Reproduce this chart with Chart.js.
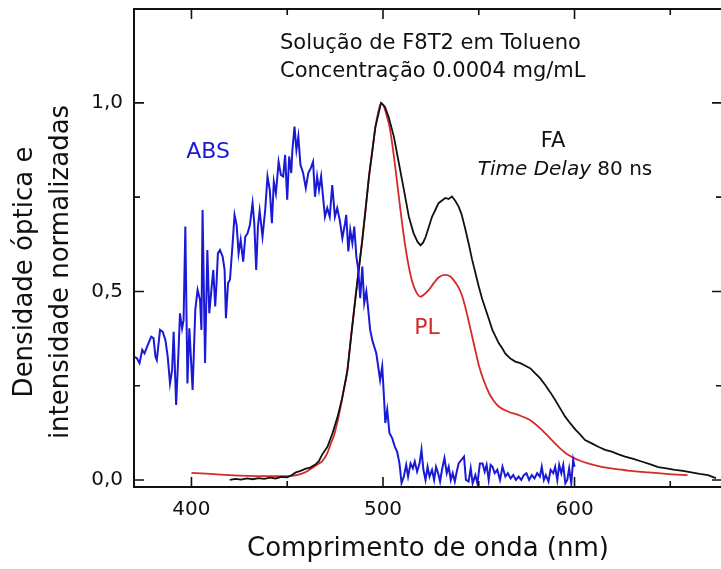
<!DOCTYPE html>
<html>
<head>
<meta charset="utf-8">
<script src="https://cdn.jsdelivr.net/npm/chart.js@4.4.0/dist/chart.umd.min.js"></script>
<style>
  html, body { margin: 0; padding: 0; background: #fff; overflow: hidden; }
  #wrap { width: 730px; height: 569px; }
</style>
</head>
<body>
<div id="wrap"><canvas id="chart" width="730" height="569"></canvas></div>
<script>
// absorção (ABS), azul
const absNm = [370, 371.5, 372.9, 374.3, 375.5, 377.2, 379, 380.2, 381.2, 381.9, 383.6, 385, 386.4, 387.6, 388.8, 389.9,
  390.7, 392, 393.2, 394, 395.1, 395.9, 396.8, 397.9, 398.9, 400.6, 402, 403.2, 404.5, 405.2, 405.8, 407.1, 408.3, 409.3,
  410.4, 411.4, 412.4, 413.1, 413.8, 414.9, 416.3, 417.3, 418, 419.1, 420.1, 421.5, 422.5, 423.6, 424.6, 425.7, 427,
  428.1, 429.3, 430.5, 431.9, 432.8, 433.8, 434.7, 435.6, 437.1, 438.5, 439.7, 440.9, 442, 443, 444.1, 445.5, 446.7,
  447.9, 448.9, 450, 451, 452.1, 452.7, 453.8, 454.8, 455.8, 456.9, 458.3, 459.7, 461, 462.3, 463.5, 464.5, 465.6, 466.6,
  467.7, 468.7, 469.7, 470.9, 472.2, 473.5, 474.9, 476.1, 477.4, 478.8, 480.2, 480.8, 481.9, 482.9, 484, 485, 486.1,
  487.1, 488.1, 489.2, 490.2, 491.3, 492.3, 493.3, 494.4, 495.4, 496.5, 497.5, 498.5, 499.6, 500.6, 501.2, 502.2, 503.4,
  504.8, 506.2, 507.4, 508.6, 509.7, 510.9, 512.1, 513.1, 514.4, 515.6, 516.6, 517.8, 519.1, 520.1, 521.1, 522.2, 523.3,
  524.3, 525.6, 526.7, 527.7, 528.8, 529.8, 530.8, 532.1, 533.3, 534.3, 535.4, 536.4, 537.5, 538.5, 539.5, 540.9, 542.3,
  543.3, 544.7, 545.8, 546.8, 548.2, 549.3, 550.6, 552, 553.1, 554.1, 555.2, 556.2, 557.2, 558.3, 559.7, 561.1, 562.4,
  563.9, 565.2, 566.6, 568, 569.4, 570.8, 572.2, 573.5, 574.9, 576.3, 577.7, 579.1, 580.5, 581.9, 582.9, 584, 585,
  586.4, 587.5, 588.9, 589.9, 591, 592, 593.1, 594.1, 595.2, 596.2, 597.2, 598.3, 599.3, 600]
const absVal = [0.327, 0.323, 0.31, 0.345, 0.336, 0.358, 0.38, 0.376, 0.327, 0.318, 0.398, 0.393, 0.371, 0.327, 0.256, 0.292,
  0.393, 0.199, 0.336, 0.442, 0.402, 0.424, 0.672, 0.256, 0.402, 0.239, 0.451, 0.504, 0.477, 0.398, 0.716, 0.31, 0.61, 0.442,
  0.504, 0.557, 0.46, 0.522, 0.601, 0.61, 0.592, 0.557, 0.429, 0.522, 0.531, 0.628, 0.703, 0.676, 0.601, 0.637, 0.579,
  0.645, 0.654, 0.676, 0.734, 0.681, 0.557, 0.672, 0.714, 0.645, 0.716, 0.805, 0.769, 0.681, 0.791, 0.76, 0.844, 0.809,
  0.805, 0.862, 0.743, 0.858, 0.814, 0.875, 0.937, 0.875, 0.911, 0.836, 0.814, 0.774, 0.814, 0.827, 0.844, 0.751, 0.805, 0.769,
  0.805, 0.751, 0.698, 0.721, 0.698, 0.782, 0.698, 0.721, 0.69, 0.641, 0.681, 0.703, 0.606, 0.663, 0.628, 0.672, 0.592,
  0.557, 0.482, 0.566, 0.469, 0.5, 0.451, 0.398, 0.371, 0.354, 0.336, 0.301, 0.265, 0.301, 0.212, 0.151, 0.186, 0.124,
  0.111, 0.088, 0.075, 0.044, -0.008, 0.009, 0.04, 0.009, 0.044, 0.031, 0.049, 0.022, 0.044, 0.08, 0.027, 0.0, 0.035,
  0.009, 0.027, 0.0, 0.035, 0.018, -0.004, 0.027, 0.058, 0.018, 0.035, 0.0, 0.018, -0.004, 0.022, 0.044, 0.053, 0.062,
  0.0, -0.004, 0.031, -0.009, 0.013, -0.009, 0.044, 0.044, 0.022, 0.04, 0.0, 0.04, 0.035, 0.018, 0.027, 0.0, 0.035,
  0.009, 0.018, 0.004, 0.013, 0.0, 0.009, 0.0, 0.013, 0.018, 0.0, 0.013, 0.004, 0.018, 0.009, 0.035, 0.0, 0.013,
  -0.004, 0.027, 0.018, 0.035, 0.0, 0.04, 0.018, 0.04, -0.009, 0.0, 0.031, -0.009, 0.053, 0.035]

// fotoluminescência (PL), vermelho
const plNm = [400, 410, 420, 430, 440, 450, 455, 460, 463, 466, 468.3, 471, 473, 474.4, 476, 477.5, 479, 481.4, 483.5,
  485.7, 487.5, 489.2, 491, 492.7, 494.5, 496, 497.5, 499, 500.5, 502, 503.5, 505.7, 508.3, 510, 511.8, 513.5, 515.2,
  517.5, 519.6, 521.5, 523.9, 526.5, 529, 532.6, 535, 536.9, 539.5, 541.2, 543, 544.7, 546.5, 548.3, 550, 552.5, 555.2,
  557.8, 560.4, 565.6, 570.8, 576, 581.2, 586.4, 591.6, 596.8, 602, 607, 612.4, 617.5, 622.9, 628, 633.3, 638.5, 643.7,
  651, 659]
const plVal = [0.019, 0.016, 0.013, 0.011, 0.01, 0.01, 0.013, 0.022, 0.032, 0.042, 0.05, 0.072, 0.1, 0.118, 0.15, 0.185,
  0.225, 0.29, 0.39, 0.486, 0.565, 0.637, 0.72, 0.805, 0.875, 0.935, 0.975, 1.0, 0.99, 0.965, 0.935, 0.858, 0.75, 0.68,
  0.615, 0.565, 0.527, 0.497, 0.486, 0.492, 0.504, 0.522, 0.537, 0.544, 0.54, 0.53, 0.51, 0.49, 0.458, 0.422, 0.382, 0.342,
  0.305, 0.265, 0.232, 0.21, 0.195, 0.181, 0.172, 0.161, 0.141, 0.115, 0.088, 0.066, 0.053, 0.044, 0.037, 0.032, 0.028,
  0.025, 0.022, 0.02, 0.018, 0.015, 0.013]

// fotoluminescência atrasada (FA), preto
const faNm = [420, 423, 426, 429, 432, 435, 438, 441, 444, 447, 450, 452, 454.5, 457, 459.7, 462, 464.9, 466.5, 468.3,
  471, 473.5, 476.2, 478.6, 481.4, 485.7, 489.2, 492.7, 496, 499, 501, 503, 505.7, 508.3, 510.9, 513.5, 516, 518, 519.6,
  521, 522.3, 524, 525.6, 527.5, 529, 531, 532.6, 534.3, 536, 537.8, 539.5, 541, 543, 544.7, 546.5, 548.3, 550, 551.8,
  553.7, 555.4, 557.1, 558.8, 560.4, 562.2, 563.9, 566.5, 569.1, 571.7, 574.3, 577, 579.5, 582, 584.7, 587.3, 589.9,
  592.5, 595.1, 597.8, 600.6, 603, 605.5, 609, 612.4, 616, 619.4, 623, 626.4, 630.7, 635, 639.3, 643.7, 648, 652.4,
  656.7, 661, 665.3, 669.7, 673.8]
const faVal = [0.0, 0.003, 0.001, 0.004, 0.002, 0.005, 0.003, 0.006, 0.004, 0.008, 0.007, 0.012, 0.02, 0.024, 0.03, 0.033,
  0.042, 0.05, 0.068, 0.088, 0.122, 0.166, 0.215, 0.29, 0.486, 0.637, 0.805, 0.935, 1.0, 0.99, 0.962, 0.91, 0.84, 0.77,
  0.698, 0.654, 0.632, 0.622, 0.63, 0.645, 0.672, 0.698, 0.718, 0.734, 0.742, 0.748, 0.745, 0.752, 0.74, 0.725, 0.705,
  0.665, 0.628, 0.585, 0.548, 0.513, 0.48, 0.451, 0.425, 0.398, 0.38, 0.363, 0.35, 0.335, 0.322, 0.314, 0.31, 0.303,
  0.296, 0.283, 0.27, 0.252, 0.233, 0.212, 0.19, 0.168, 0.15, 0.133, 0.12, 0.106, 0.097, 0.088, 0.08, 0.075, 0.068,
  0.062, 0.056, 0.049, 0.042, 0.034, 0.031, 0.027, 0.024, 0.02, 0.016, 0.013, 0.005]

const xTicks = [400, 450, 500, 550, 600, 650]
const yTicks = [0, 0.25, 0.5, 0.75, 1.0]

const FONT = '"DejaVu Sans", sans-serif'

function pairs(xs, ys){
  return xs.map((x, i) => ({x: x, y: ys[i]}))
}

function noPad(s){
  s.paddingTop = 0; s.paddingBottom = 0; s.paddingLeft = 0; s.paddingRight = 0
}

// moldura com marcas para dentro, nos quatro lados
const frame = {
  id: 'frame',
  afterDatasetsDraw(chart){
    const ctx = chart.ctx, a = chart.chartArea
    const sx = chart.scales.x, sy = chart.scales.y
    ctx.save()
    ctx.strokeStyle = '#111'
    ctx.lineWidth = 2
    ctx.strokeRect(a.left, a.top, a.right - a.left, a.bottom - a.top)
    ctx.lineWidth = 1.6
    ctx.beginPath()
    xTicks.forEach(v => {
      const px = sx.getPixelForValue(v), len = v % 100 === 0 ? 10 : 6
      ctx.moveTo(px, a.bottom); ctx.lineTo(px, a.bottom - len)
      ctx.moveTo(px, a.top); ctx.lineTo(px, a.top + len)
    })
    yTicks.forEach(v => {
      const py = sy.getPixelForValue(v), len = Math.abs(v % 0.5) < 1e-9 ? 10 : 6
      ctx.moveTo(a.left, py); ctx.lineTo(a.left + len, py)
      ctx.moveTo(a.right, py); ctx.lineTo(a.right - len, py)
    })
    ctx.stroke()
    ctx.restore()
  }
}

// textos dentro do gráfico e título do eixo y
const notes = {
  id: 'notes',
  afterDraw(chart){
    const ctx = chart.ctx
    ctx.save()
    ctx.textBaseline = 'middle'

    ctx.fillStyle = '#111'
    ctx.textAlign = 'left'
    ctx.font = '21px ' + FONT
    ctx.fillText('Solução de F8T2 em Tolueno', 280, 44)
    ctx.fillText('Concentração 0.0004 mg/mL', 280, 72)

    ctx.textAlign = 'center'
    ctx.fillText('FA', 553, 142)

    const it = 'italic 20px ' + FONT, rg = '20px ' + FONT
    ctx.font = it
    const w1 = ctx.measureText('Time Delay').width
    ctx.font = rg
    const w2 = ctx.measureText(' 80 ns').width
    let x0 = 565 - (w1 + w2) / 2
    ctx.textAlign = 'left'
    ctx.font = it
    ctx.fillText('Time Delay', x0, 170)
    ctx.font = rg
    ctx.fillText(' 80 ns', x0 + w1, 170)

    ctx.textAlign = 'center'
    ctx.font = '22px ' + FONT
    ctx.fillStyle = '#1a1ad6'
    ctx.fillText('ABS', 208, 152)
    ctx.fillStyle = '#d42a2a'
    ctx.fillText('PL', 427, 328)

    ctx.fillStyle = '#111'
    ctx.font = '26px ' + FONT
    ctx.translate(0, 272)
    ctx.rotate(-Math.PI / 2)
    ctx.fillText('Densidade óptica e', 0, 25)
    ctx.fillText('intensidade normalizadas', 0, 61)
    ctx.restore()
  }
}

new Chart(document.getElementById('chart'), {
  type: 'line',
  data: {
    datasets: [
      { label: 'ABS', data: pairs(absNm, absVal), borderColor: '#1a1ad6', borderWidth: 2 },
      { label: 'FA', data: pairs(faNm, faVal), borderColor: '#111111', borderWidth: 1.8 },
      { label: 'PL', data: pairs(plNm, plVal), borderColor: '#d42a2a', borderWidth: 1.8, cubicInterpolationMode: 'monotone' }
    ]
  },
  options: {
    responsive: false,
    animation: false,
    events: [],
    layout: { padding: { top: 9, right: 8, left: 0, bottom: 0 } },
    elements: { point: { radius: 0 }, line: { tension: 0 } },
    plugins: { legend: { display: false }, tooltip: { enabled: false } },
    scales: {
      x: {
        type: 'linear',
        min: 370,
        max: 677,
        afterBuildTicks: s => { s.ticks = xTicks.map(v => ({value: v})) },
        afterFit: s => { s.height = 82; noPad(s) },
        grid: { display: false, drawTicks: false },
        border: { display: false },
        ticks: {
          padding: 11,
          color: '#111',
          font: { family: FONT, size: 20 },
          maxRotation: 0,
          autoSkip: false,
          callback: v => v % 100 === 0 ? String(v) : ''
        },
        title: {
          display: true,
          text: 'Comprimento de onda (nm)',
          color: '#111',
          font: { family: FONT, size: 26 },
          padding: { top: 0, bottom: 4 }
        }
      },
      y: {
        min: -0.0186,
        max: 1.249,
        afterBuildTicks: s => { s.ticks = yTicks.map(v => ({value: v})) },
        afterFit: s => { s.width = 134; noPad(s) },
        grid: { display: false, drawTicks: false },
        border: { display: false },
        ticks: {
          padding: 11,
          color: '#111',
          font: { family: FONT, size: 20 },
          autoSkip: false,
          callback: v => Math.abs(v % 0.5) < 1e-9 ? v.toFixed(1).replace('.', ',') : ''
        }
      }
    }
  },
  plugins: [frame, notes]
})
</script>
</body>
</html>
